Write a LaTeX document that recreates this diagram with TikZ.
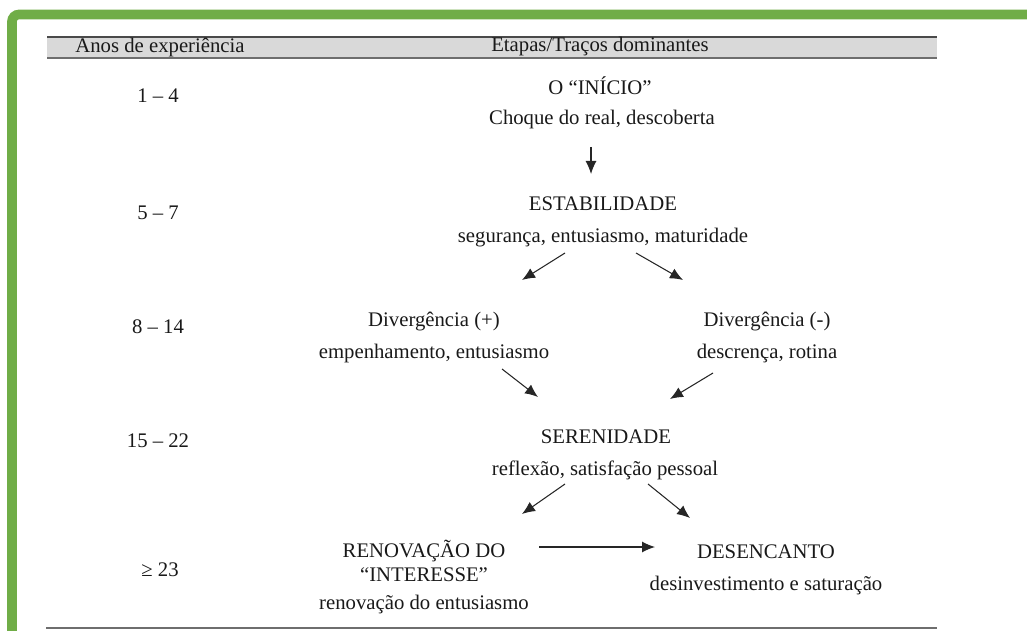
\documentclass[tikz,border=0pt]{standalone}
\usepackage{fontspec}
\setmainfont{Liberation Serif}
\usepackage{tikz}
\usetikzlibrary{positioning, arrows.meta}
\definecolor{framegreen}{HTML}{70AD47}
\definecolor{headgray}{HTML}{D9D9D9}
\definecolor{rulegray}{HTML}{4A4A4A}

\begin{document}
\begin{tikzpicture}[
        x=0.02cm, y=-0.02cm,
        every node/.style={font=\fontsize{11.8}{13.5}\selectfont, text=black!90, inner sep=1pt},
        stage/.style={align=center},
        trait/.style={},
        years/.style={},
        arrow/.style={semithick, black!85, -{Latex[length=2.6mm, width=2.2mm]}}
    ]
    \useasboundingbox (0,0) rectangle (1027,631);

    % Frame and table rules
    \draw [framegreen, line width=5.5pt, rounded corners=4pt] (12,700) -- (12,14.5) -- (1100,14.5);
    \fill [headgray] (47,37) rectangle (937,58);
    \draw [rulegray, line width=1.2pt] (47,37) -- (937,37);
    \draw [rulegray!80, line width=1.6pt] (47,58) -- (937,58);
    \draw [rulegray!80, line width=1.6pt] (46,628) -- (937,628);

    % Header
    \node (hdyears) at (160,47) {Anos de experiência};
    \node (hdstages) at (600,47) {Etapas/Traços dominantes};

    % Years
    \node [years] (y1) at (158,96) {1 – 4};
    \node [years] (y2) at (158,213) {5 – 7};
    \node [years] (y3) at (158,327) {8 – 14};
    \node [years] (y4) at (158,441) {15 – 22};
    \node [years] (y5) at (160,570) {≥ 23};

    % Stages
    \node [stage] (init) at (600,86) {O “INÍCIO”};
    \node [trait] (initt) at (602,120) {Choque do real, descoberta};
    \node [stage] (est) at (603,204) {ESTABILIDADE};
    \node [trait] (estt) at (603,238) {segurança, entusiasmo, maturidade};
    \node [stage] (divp) at (434,322) {Divergência (+)};
    \node [trait] (divpt) at (434,354) {empenhamento, entusiasmo};
    \node [stage] (divm) at (767,322) {Divergência (-)};
    \node [trait] (divmt) at (767,354) {descrença, rotina};
    \node [stage] (ser) at (606,437) {SERENIDADE};
    \node [trait] (sert) at (605,470) {reflexão, satisfação pessoal};
    \node [stage] (ren) at (424,561) {RENOVAÇÃO DO\\“INTERESSE”};
    \node [trait] (rent) at (424,605) {renovação do entusiasmo};
    \node [stage] (des) at (766,552) {DESENCANTO};
    \node [trait] (dest) at (766,586) {desinvestimento e saturação};

    % Arrows
    \draw [arrow] ([shift={(-11,27)}]initt.center) -- ([shift={(-12,-30)}]est.center);
    \draw [arrow] ([shift={(-38,15)}]estt.center) -- ([shift={(88,-42)}]divp.center);
    \draw [arrow] ([shift={(33,15)}]estt.center) -- ([shift={(-84,-42)}]divm.center);
    \draw [arrow] ([shift={(68,15)}]divpt.center) -- ([shift={(-68,-40)}]ser.center);
    \draw [arrow] ([shift={(-54,19)}]divmt.center) -- ([shift={(64,-38)}]ser.center);
    \draw [arrow] ([shift={(-40,14)}]sert.center) -- ([shift={(98,-47)}]ren.center);
    \draw [arrow] ([shift={(43,14)}]sert.center) -- ([shift={(-76,-34)}]des.center);
    \draw [arrow] ([shift={(115,-14)}]ren.center) -- ([shift={(-111,-5)}]des.center);

\end{tikzpicture}
\end{document}
